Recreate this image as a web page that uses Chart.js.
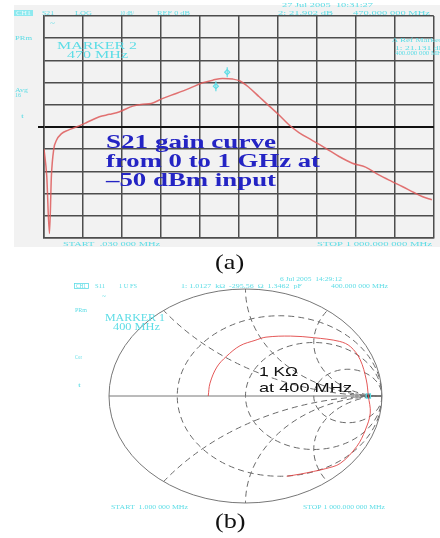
<!DOCTYPE html>
<html>
<head>
<meta charset="utf-8">
<script src="https://cdn.jsdelivr.net/npm/chart.js@4/dist/chart.umd.min.js"></script>
<style>
  html, body { margin: 0; padding: 0; background: #fff; }
  #page { position: relative; width: 440px; height: 538px; overflow: hidden; }
  canvas { position: absolute; left: 0; display: block; }
  #gain { top: 0; }
  #smith { top: 250px; }
  .cap { position: absolute; left: 215px; font: 21px "Liberation Serif", "Times New Roman", serif;
         line-height: 21px; color: #111; transform: scaleX(1.25); transform-origin: left top; }
</style>
</head>
<body>
<div id="page">
  <canvas id="gain" width="440" height="250"></canvas>
  <canvas id="smith" width="440" height="288"></canvas>
  <div class="cap" style="top:252px">(a)</div>
  <div class="cap" style="top:511px">(b)</div>
</div>
<script>
// (a) S21 trace: MHz vs dB (10 dB/div, ref 0 dB)
const freqMHz = [0, 7, 14, 19, 25, 32, 45, 61, 83, 108, 142, 168, 194, 228, 253, 275, 305, 339, 373,
  407, 433, 458, 484, 503, 526, 552, 578, 603, 629, 654, 689, 723, 757, 791, 825, 859, 893, 919, 949, 970, 995];
const s21dB = [-10, -22, -48, -22, -10, -6, -3, -1.5, 0, 1.9, 4.6, 5.7, 6.9, 9.4, 10.2, 10.6, 12.9, 15.1, 17.4,
  19.9, 21.1, 21.9, 21.6, 20.7, 17.8, 13.6, 9.4, 5.4, 0.9, -2.5, -6.1, -9.6, -13.3, -16.3, -18.1, -21.6, -24.6, -26.8, -29.5, -31.3, -32.8];
const markerMHz = [441, 470];
const markerDB = [18.4, 24.7];

// (b) S11 trace on the Smith chart (reflection coefficient)
const gammaRe = [-0.273, -0.26, -0.21, -0.14, -0.04, 0.07, 0.15, 0.33, 0.5, 0.69, 0.77, 0.84, 0.885, 0.9,
  0.914, 0.877, 0.816, 0.694, 0.584, 0.498, 0.4, 0.302];
const gammaIm = [0, 0.12, 0.27, 0.37, 0.47, 0.52, 0.55, 0.56, 0.545, 0.51, 0.46, 0.34, 0.15, 0,
  -0.16, -0.32, -0.47, -0.63, -0.68, -0.705, -0.73, -0.75];
const smithMarkerRe = [0.9];
const smithMarkerIm = [0];
const smithDotRe = [0.816];
const smithDotIm = [0];

// Smith graticule values
const resistanceCircles = [1 / 3, 1, 3];
const reactanceArcs = [0.5, 1, 2, -0.5, -1, -2];

const CYAN = "#5edde6";
const TINY = '6px "Liberation Serif", serif';

function txt(ctx, s, x, y, font, color, w) {
  ctx.save();
  ctx.font = font;
  ctx.fillStyle = color;
  ctx.textAlign = "left";
  ctx.textBaseline = "alphabetic";
  const m = ctx.measureText(s).width;
  ctx.translate(x, y);
  if (w) ctx.scale(w / m, 1);
  ctx.fillText(s, 0, 0);
  ctx.restore();
}

const gainDecor = {
  id: "gainDecor",
  beforeDraw(chart) {
    const c = chart.ctx;
    c.save();
    c.fillStyle = "#f2f2f2";
    c.fillRect(14, 5, 426, 242);
    c.restore();
  },
  afterDraw(chart) {
    const c = chart.ctx;
    const y0 = chart.scales.y.getPixelForValue(0);
    c.save();
    c.strokeStyle = "#111";
    c.lineWidth = 2;
    c.beginPath();
    c.moveTo(38, y0);
    c.lineTo(chart.chartArea.left, y0);
    c.stroke();

    c.fillStyle = "#8ee9ef";
    c.fillRect(14, 10, 19, 6);
    c.restore();
    txt(c, "CH1", 16, 15, TINY, "#e8fbfc", 15);

    [
      ["S21", 42, 15, 12], ["LOG", 75, 15, 17], ["10 dB/", 120, 15, 14], ["REF 0 dB", 157, 15, 33],
      ["27 Jul 2005  10:31:27", 282, 7, 91], ["2: 21.902 dB", 278, 15, 55], ["470.000 000 MHz", 353, 15, 77],
      ["~", 50, 25, 5], ["PRm", 15, 40, 17], ["Avg", 15, 92, 13], ["16", 15, 97, 6], ["t", 21, 118, 3],
      ["Δ Ref Marker", 392, 42, 50], ["1: 21.131 dB", 395, 50, 50], ["400.000 000 MHz", 395, 55, 50],
      ["START  .030 000 MHz", 63, 246, 97], ["STOP 1 000.000 000 MHz", 317, 246, 115],
    ].forEach(([s, x, y, w]) => txt(c, s, x, y, TINY, CYAN, w));

    const mk = '11px "Liberation Serif", serif';
    txt(c, "MARKER 2", 57, 49, mk, CYAN, 80);
    txt(c, "470 MHz", 67, 58, mk, CYAN, 61);

    const big = 'bold 18px "Liberation Serif", serif';
    const blue = "#2424c4";
    txt(c, "S21 gain curve", 106, 148, big, blue, 170);
    txt(c, "from 0 to 1 GHz at", 106, 167, big, blue, 214);
    txt(c, "\u201350 dBm input", 106, 186, big, blue, 170);
  },
};

const gridColor = (ctx) => (ctx.tick && ctx.tick.value === 0 ? "#111" : "#4d4d4d");
const gridWidth = (ctx) => (ctx.tick && ctx.tick.value === 0 ? 2 : 1.5);

new Chart(document.getElementById("gain"), {
  type: "line",
  data: {
    datasets: [
      {
        data: freqMHz.map((f, i) => ({ x: f, y: s21dB[i] })),
        borderColor: "rgba(222, 90, 90, 0.85)",
        borderWidth: 1.5,
        pointRadius: 0,
        cubicInterpolationMode: "monotone",
      },
      {
        data: markerMHz.map((f, i) => ({ x: f, y: markerDB[i] })),
        showLine: false,
        pointStyle: "rectRot",
        pointRadius: 2.5,
        borderColor: CYAN,
        borderWidth: 1.2,
        backgroundColor: "transparent",
      },
      {
        data: markerMHz.map((f, i) => ({ x: f, y: markerDB[i] })),
        showLine: false,
        pointStyle: "line",
        rotation: 90,
        pointRadius: 5,
        borderColor: CYAN,
        borderWidth: 1.2,
      },
    ],
  },
  options: {
    responsive: false,
    animation: false,
    layout: { padding: { left: 44, right: 5, top: 16, bottom: 12 } },
    plugins: { legend: { display: false }, tooltip: { enabled: false } },
    scales: {
      x: {
        type: "linear",
        min: 0,
        max: 1000,
        ticks: { display: false, stepSize: 100 },
        grid: { color: "#4d4d4d", lineWidth: 1.5, drawTicks: false },
        border: { color: "#4d4d4d", width: 1.5 },
      },
      y: {
        min: -50,
        max: 50,
        ticks: { display: false, stepSize: 10 },
        grid: { color: gridColor, lineWidth: gridWidth, drawTicks: false },
        border: { color: "#4d4d4d", width: 1.5 },
      },
    },
  },
  plugins: [gainDecor],
});

const smithDecor = {
  id: "smithDecor",
  beforeDatasetsDraw(chart) {
    const c = chart.ctx;
    const xs = chart.scales.x;
    const ys = chart.scales.y;
    const sx = xs.getPixelForValue(1) - xs.getPixelForValue(0);
    const sy = ys.getPixelForValue(0) - ys.getPixelForValue(1);
    const cx = xs.getPixelForValue(0);
    const cy = ys.getPixelForValue(0);

    c.save();
    c.beginPath();
    c.ellipse(cx, cy, sx, sy, 0, 0, Math.PI * 2);
    c.clip();
    c.strokeStyle = "#6a6a6a";
    c.lineWidth = 1;
    c.setLineDash([6, 4]);
    resistanceCircles.forEach((r) => {
      const k = 1 / (1 + r);
      c.beginPath();
      c.ellipse(xs.getPixelForValue(r / (1 + r)), cy, k * sx, k * sy, 0, 0, Math.PI * 2);
      c.stroke();
    });
    reactanceArcs.forEach((x) => {
      const k = Math.abs(1 / x);
      c.beginPath();
      c.ellipse(xs.getPixelForValue(1), ys.getPixelForValue(1 / x), k * sx, k * sy, 0, 0, Math.PI * 2);
      c.stroke();
    });
    c.restore();

    c.save();
    c.strokeStyle = "#777";
    c.lineWidth = 1;
    c.beginPath();
    c.ellipse(cx, cy, sx, sy, 0, 0, Math.PI * 2);
    c.moveTo(cx - sx, cy);
    c.lineTo(cx + sx, cy);
    c.stroke();
    c.restore();
  },
  afterDraw(chart) {
    const c = chart.ctx;
    c.save();
    c.strokeStyle = CYAN;
    c.lineWidth = 0.8;
    c.strokeRect(74.5, 33.5, 14, 5);
    c.restore();
    [
      ["6 Jul 2005  14:29:12", 280, 31, 62], ["CH1", 76, 38, 10], ["S11", 95, 38, 10], ["1 U FS", 119, 38, 18],
      ["1: 1.0127  kΩ  -295.56  Ω  1.3462  pF", 181, 38, 121], ["400.000 000 MHz", 331, 38, 57],
      ["~", 102, 48, 4], ["PRm", 75, 62, 12], ["Cor", 75, 109, 7], ["t", 78, 137, 3],
      ["START  1.000 000 MHz", 111, 259, 77], ["STOP 1 000.000 000 MHz", 303, 259, 82],
    ].forEach(([s, x, y, w]) => txt(c, s, x, y, TINY, CYAN, w));

    const mk = '10px "Liberation Serif", serif';
    txt(c, "MARKER 1", 105, 71, mk, CYAN, 60);
    txt(c, "400 MHz", 113, 79.5, mk, CYAN, 47);

    const lab = '13px "Liberation Sans", Arial, sans-serif';
    txt(c, "1 KΩ", 259, 126, lab, "#111", 39);
    txt(c, "at 400 MHz", 259, 141.5, lab, "#111", 93);
  },
};

new Chart(document.getElementById("smith"), {
  type: "scatter",
  data: {
    datasets: [
      {
        data: gammaRe.map((u, i) => ({ x: u, y: gammaIm[i] })),
        showLine: true,
        tension: 0.35,
        borderColor: "rgba(225, 70, 70, 0.9)",
        borderWidth: 1,
        pointRadius: 0,
      },
      {
        data: smithDotRe.map((u, i) => ({ x: u, y: smithDotIm[i] })),
        pointStyle: "circle",
        pointRadius: 2.5,
        backgroundColor: "#9a9a9a",
        borderColor: "#bbb",
      },
      {
        data: smithMarkerRe.map((u, i) => ({ x: u, y: smithMarkerIm[i] })),
        pointStyle: "rect",
        pointRadius: 3,
        backgroundColor: "#2a4a4a",
        borderColor: CYAN,
        borderWidth: 1.2,
      },
    ],
  },
  options: {
    responsive: false,
    animation: false,
    layout: { padding: { left: 109, right: 58, top: 39, bottom: 35 } },
    plugins: { legend: { display: false }, tooltip: { enabled: false } },
    scales: {
      x: { type: "linear", min: -1, max: 1, display: false },
      y: { type: "linear", min: -1, max: 1, display: false },
    },
  },
  plugins: [smithDecor],
});
</script>
</body>
</html>
